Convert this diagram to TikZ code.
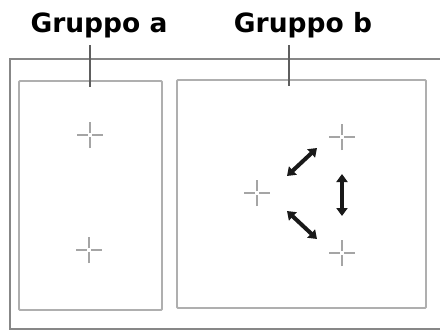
\documentclass[tikz,border=0pt]{standalone}
\usepackage{fontspec}
\setmainfont{DejaVu Sans}
\usetikzlibrary{arrows.meta}
\definecolor{boxgray}{RGB}{175,175,175}
\definecolor{outergray}{RGB}{135,135,135}
\definecolor{crossgray}{RGB}{165,165,165}
\tikzset{
  grouplabel/.style={font=\bfseries\fontsize{26.5}{30}\selectfont, anchor=base, inner sep=0pt},
  groupbox/.style={draw=boxgray, line width=1.8pt, rounded corners=1pt},
  outerbox/.style={draw=outergray, line width=1.8pt},
  tickline/.style={draw=outergray!70!black, line width=1.4pt},
  crossline/.style={draw=crossgray, line width=1.1pt},
  dblarrow/.style={draw=black!90, line width=4pt, {Triangle[length=8pt,width=11pt]}-{Triangle[length=8pt,width=11pt]}}
}
\newcommand{\drawcross}[1]{%
  \draw[crossline] ([xshift=-13pt]#1) -- ([xshift=-2pt]#1);
  \draw[crossline] ([xshift=2pt]#1) -- ([xshift=13pt]#1);
  \draw[crossline] ([yshift=-13pt]#1) -- ([yshift=-2pt]#1);
  \draw[crossline] ([yshift=2pt]#1) -- ([yshift=13pt]#1);
}
\begin{document}
\begin{tikzpicture}[x=1pt,y=-1pt]
\useasboundingbox (0,0) rectangle (440,332);
\fill[white] (0,0) rectangle (440,332);
% outer box (right edge beyond the picture)
\draw[outerbox] (446,59) -- (10,59) -- (10,329) -- (446,329);
% group boxes
\node[groupbox, minimum width=143pt, minimum height=229pt, inner sep=0pt] (boxa) at (90.5,195.5) {};
\node[groupbox, minimum width=249pt, minimum height=228pt, inner sep=0pt] (boxb) at (301.5,194) {};
% labels
\node[grouplabel] (laba) at (99,32) {Gruppo a};
\node[grouplabel] (labb) at (303,32) {Gruppo b};
\coordinate (ta1) at (90,45);
\coordinate (ta2) at (90,87);
\coordinate (tb1) at (289,45);
\coordinate (tb2) at (289,86);
\draw[tickline] (ta1) -- (ta2);
\draw[tickline] (tb1) -- (tb2);
% crosses
\coordinate (a1) at (90,135);
\coordinate (a2) at (89,250);
\coordinate (b0) at (257,193);
\coordinate (b1) at (342,137);
\coordinate (b2) at (342,253);
\drawcross{a1}
\drawcross{a2}
\drawcross{b0}
\drawcross{b1}
\drawcross{b2}
% arrows
\coordinate (p1s) at (287,176);
\coordinate (p1e) at (317,148);
\coordinate (p2s) at (342,174);
\coordinate (p2e) at (342,216);
\coordinate (p3s) at (287,211);
\coordinate (p3e) at (317,239);
\draw[dblarrow] (p1s) -- (p1e);
\draw[dblarrow] (p2s) -- (p2e);
\draw[dblarrow] (p3s) -- (p3e);
\end{tikzpicture}
\end{document}
